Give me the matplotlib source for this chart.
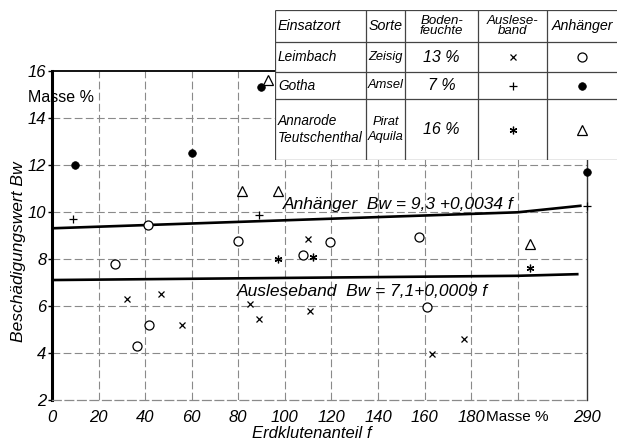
import numpy as np
import matplotlib
matplotlib.use("Agg")
import matplotlib.pyplot as plt

# ---------------- data ----------------
leim_ausl_f = [32, 47, 56, 85, 89, 110, 111, 163, 177]
leim_ausl_bw = [6.3, 6.5, 5.2, 6.1, 5.45, 8.85, 5.8, 3.95, 4.6]
leim_anh_f = [27, 36.6, 41.4, 41.8, 79.8, 108, 119.4, 157.8, 161]
leim_anh_bw = [7.8, 4.3, 9.45, 5.2, 8.75, 8.15, 8.7, 8.95, 5.95]
gotha_ausl_f = [9, 89, 290]
gotha_ausl_bw = [9.7, 9.85, 10.25]
gotha_anh_f = [10, 60, 89.6, 290]
gotha_anh_bw = [12.0, 12.5, 15.3, 11.7]
anna_ausl_f = [97, 112, 216]
anna_ausl_bw = [8.0, 8.1, 7.63]
anna_anh_f = [81.7, 92.7, 97.2, 216]
anna_anh_bw = [10.9, 15.6, 10.9, 8.64]

# regression lines Bw = a + b f
anh_a, anh_b, anh_fmax = 9.3, 0.0034, 281
ausl_a, ausl_b, ausl_fmax = 7.1, 0.0009, 277

x_ticks = [0, 20, 40, 60, 80, 100, 120, 140, 160, 180, 200, 290]
x_ticklabels = ["0", "20", "40", "60", "80", "100", "120", "140", "160", "180", "Masse %", "290"]
y_ticks = [2, 4, 6, 8, 10, 12, 14, 16]

table_header = ["Einsatzort", "Sorte", "Boden-\nfeuchte", "Auslese-\nband", "Anhänger"]
table_rows = [["Leimbach", "Zeisig", "13 %"],
              ["Gotha", "Amsel", "7 %"],
              ["Annarode\nTeutschenthal", "Pirat\nAquila", "16 %"]]

# ---------------- styles ----------------
REG = ["Liberation Sans", "DejaVu Sans"]
plt.rcParams["font.family"] = REG

st_leim_ausl = dict(marker="x", ms=4.5, mew=0.9, color="black", ls="none")
st_leim_anh = dict(marker="o", ms=6.5, mew=0.9, mfc="white", mec="black", ls="none")
st_gotha_ausl = dict(marker="+", ms=5.5, mew=0.9, color="black", ls="none")
st_gotha_anh = dict(marker="o", ms=5.5, mew=0.5, mfc="black", mec="black", ls="none")
st_anna_ausl = dict(marker=(6, 2, 0), ms=5.5, mew=0.9, color="black", ls="none")
st_anna_anh = dict(marker="^", ms=6.5, mew=0.9, mfc="white", mec="black", ls="none")

K = 29.9 / 90.0  # compression of the broken x-scale above 200


def fwd(f):
    f = np.asarray(f, dtype=float)
    return np.where(f <= 200, f, 200 + (f - 200) * K)


def inv(p):
    p = np.asarray(p, dtype=float)
    return np.where(p <= 200, p, 200 + (p - 200) / K)


W, H = 618, 445
fig = plt.figure(figsize=(W / 100, H / 100), dpi=100)
ax = fig.add_axes([52 / W, 1 - 400 / H, 535.3 / W, 329.3 / H])
ax.set_xscale("function", functions=(fwd, inv))
ax.set_xlim(0, 290)
ax.set_ylim(2, 16)

# grid
grid_kw = dict(color="#8a8a8a", lw=0.8, ls=(0, (7, 3)), zorder=0)
for xv in x_ticks[1:-1]:
    ax.axvline(xv, **grid_kw)
for yv in y_ticks[1:-1]:
    ax.axhline(yv, **grid_kw)

# regression lines
fa = np.array([0, 200, anh_fmax])
ax.plot(fa, anh_a + anh_b * fa, color="black", lw=1.9, zorder=3)
fb = np.array([0, 200, ausl_fmax])
ax.plot(fb, ausl_a + ausl_b * fb, color="black", lw=1.9, zorder=3)

# points
ax.plot(leim_ausl_f, leim_ausl_bw, zorder=4, **st_leim_ausl)
ax.plot(leim_anh_f, leim_anh_bw, zorder=4, **st_leim_anh)
ax.plot(gotha_ausl_f, gotha_ausl_bw, zorder=4, clip_on=False, **st_gotha_ausl)
ax.plot(gotha_anh_f, gotha_anh_bw, zorder=4, clip_on=False, **st_gotha_anh)
ax.plot(anna_ausl_f, anna_ausl_bw, zorder=4, **st_anna_ausl)
ax.plot(anna_anh_f, anna_anh_bw, zorder=4, **st_anna_anh)

# line labels
ax.text(99.2, 10.12, "Anhänger  Bw = 9,3 +0,0034 f", fontsize=12.5, style="italic",
        ha="left", va="baseline", zorder=5)
ax.text(79.5, 6.42, "Ausleseband  Bw = 7,1+0,0009 f", fontsize=12.5, style="italic",
        ha="left", va="baseline", zorder=5)

# spines
ax.spines["left"].set_linewidth(2.2)
ax.spines["top"].set_linewidth(1.3)
ax.spines["right"].set_linewidth(1.0)
ax.spines["right"].set_color("#333333")
ax.spines["bottom"].set_linewidth(0.9)
ax.spines["bottom"].set_color("#8a8a8a")
ax.spines["bottom"].set_linestyle((0, (7, 3)))

# ticks
ax.set_xticks(x_ticks)
ax.set_xticklabels(x_ticklabels)
ax.set_yticks(y_ticks)
ax.tick_params(axis="x", length=0, pad=7, labelsize=12)
ax.tick_params(axis="y", length=3, width=1.0, pad=1, labelsize=12)
for lab in ax.get_xticklabels() + ax.get_yticklabels():
    lab.set_fontstyle("italic")
mlab = ax.get_xticklabels()[10]
mlab.set_fontstyle("normal")
mlab.set_fontsize(11)

ax.set_xlabel("Erdklutenanteil f", fontsize=12, style="italic")
ax.xaxis.set_label_coords((312 - 52) / 535.3, -(433 - 400) / 329.3)
ax.xaxis.label.set_va("center")
ax.set_ylabel("Beschädigungswert Bw", fontsize=12.5, style="italic")
ax.yaxis.set_label_coords(-(52 - 19) / 535.3, (400 - 252) / 329.3)
ax.yaxis.label.set_va("center")

fig.text(28 / W, 1 - 97 / H, "Masse %", fontsize=11.5, ha="left", va="center")

# ---------------- table ----------------
col_edges = [275, 366, 405, 478, 547, 617]
row_edges = [10, 42, 72, 99, 160]
tax = fig.add_axes([col_edges[0] / W, 1 - row_edges[-1] / H,
                    (col_edges[-1] - col_edges[0]) / W, (row_edges[-1] - row_edges[0]) / H])
tax.set_xlim(col_edges[0], col_edges[-1])
tax.set_ylim(row_edges[-1], row_edges[0])
tax.set_facecolor("white")
tax.set_zorder(10)
tax.set_xticks([])
tax.set_yticks([])
for s in tax.spines.values():
    s.set_visible(False)
line_kw = dict(color="#444444", lw=0.9)
for xe in col_edges[:-1]:
    tax.vlines(xe, row_edges[0], row_edges[-1], **line_kw)
for ye in row_edges:
    tax.hlines(ye, col_edges[0], col_edges[-1], **line_kw)

cx = [(col_edges[i] + col_edges[i + 1]) / 2 for i in range(5)]
cy = [(row_edges[i] + row_edges[i + 1]) / 2 for i in range(4)]
col_fs = [9.8, 9.3, 11.5, 11, 10.5]
for j, txt in enumerate(table_header):
    if j == 0:
        tax.text(col_edges[0] + 3, cy[0], txt, fontsize=10.3, style="italic",
                 ha="left", va="center")
    else:
        tax.text(cx[j], cy[0], txt, fontsize=9.5 if "\n" in txt else 10.3,
                 style="italic", ha="center", va="center", linespacing=0.85)
for i, row in enumerate(table_rows):
    for j, txt in enumerate(row):
        if j == 0:
            tax.text(col_edges[0] + 3, cy[i + 1], txt, fontsize=col_fs[j], style="italic",
                     ha="left", va="center", linespacing=1.35)
        else:
            tax.text(cx[j], cy[i + 1], txt, fontsize=col_fs[j], style="italic",
                     ha="center", va="center", linespacing=1.35)
ausl_styles = [st_leim_ausl, st_gotha_ausl, st_anna_ausl]
anh_styles = [st_leim_anh, st_gotha_anh, st_anna_anh]
for i in range(3):
    tax.plot([cx[3]], [cy[i + 1]], **ausl_styles[i])
    tax.plot([cx[4]], [cy[i + 1]], **anh_styles[i])

fig.savefig("out.png", dpi=100)
